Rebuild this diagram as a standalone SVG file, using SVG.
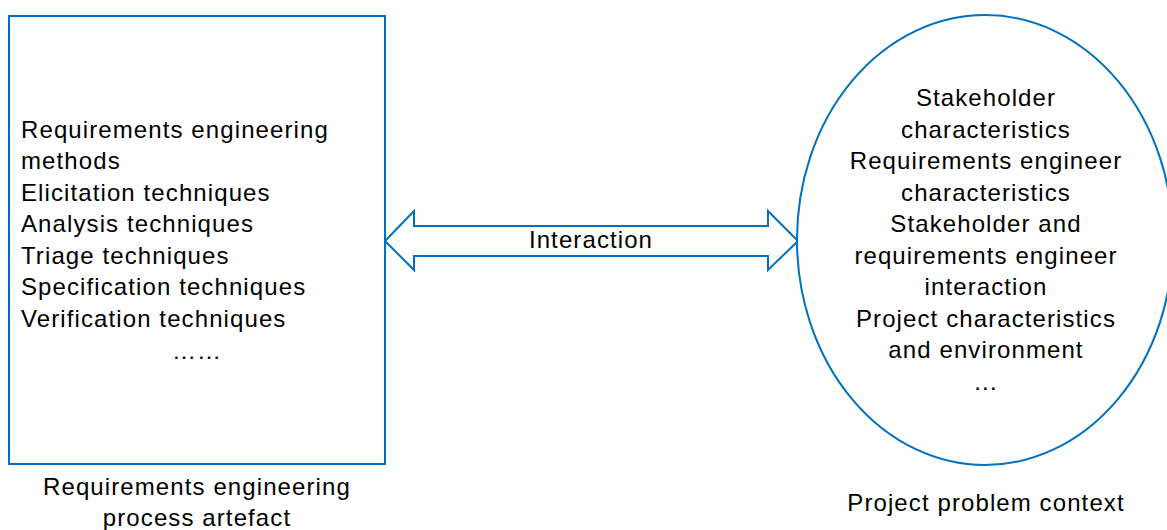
<svg xmlns="http://www.w3.org/2000/svg" width="1167" height="530" viewBox="0 0 1167 530">
<style>
.shape{fill:#fff;stroke:#0070C0;stroke-width:2}
.t{font-family:"Liberation Sans",Arial,sans-serif;font-size:24px;letter-spacing:1.1px;fill:#000}
.m{text-anchor:middle}
</style>
<rect width="1167" height="530" fill="#fff"/>
<g id="connectors">
<polygon class="shape" points="385,241 414,211 414,226 768,226 768,211 798,241 768,270 768,256 414,256 414,270"/>
<text class="t m" x="591" y="248">Interaction</text>
</g>
<g id="artefact">
<rect class="shape" x="9" y="16" width="376" height="448"/>
<text class="t" x="21" y="137.5">Requirements engineering</text>
<text class="t" x="21" y="169">methods</text>
<text class="t" x="21" y="200.5">Elicitation techniques</text>
<text class="t" x="21" y="232">Analysis techniques</text>
<text class="t" x="21" y="263.5">Triage techniques</text>
<text class="t" x="21" y="295">Specification techniques</text>
<text class="t" x="21" y="326.5">Verification techniques</text>
<text class="t m" x="197" y="359">……</text>
<text class="t m" x="197" y="495">Requirements engineering</text>
<text class="t m" x="197" y="526">process artefact</text>
</g>
<g id="context">
<ellipse class="shape" cx="985" cy="240" rx="188" ry="225"/>
<text class="t m" x="986" y="106">Stakeholder</text>
<text class="t m" x="986" y="137.5">characteristics</text>
<text class="t m" x="986" y="169">Requirements engineer</text>
<text class="t m" x="986" y="200.5">characteristics</text>
<text class="t m" x="986" y="232">Stakeholder and</text>
<text class="t m" x="986" y="263.5">requirements engineer</text>
<text class="t m" x="986" y="295">interaction</text>
<text class="t m" x="986" y="326.5">Project characteristics</text>
<text class="t m" x="986" y="358">and environment</text>
<text class="t m" x="986" y="389.5">...</text>
<text class="t m" x="986" y="511">Project problem context</text>
</g>
</svg>
